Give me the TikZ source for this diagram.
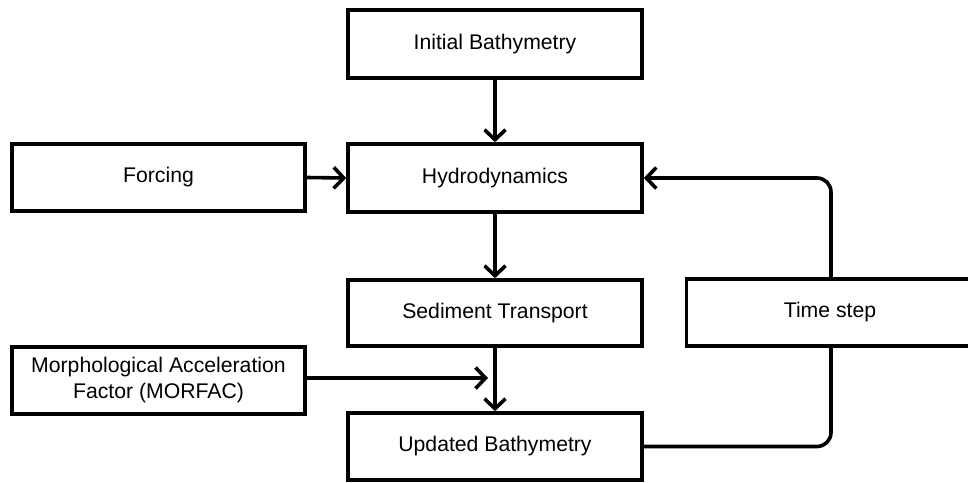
\documentclass[tikz,border=0pt]{standalone}
\usepackage{fontspec}
\setmainfont{Liberation Sans}
\usetikzlibrary{arrows.meta}
\begin{document}
\begin{tikzpicture}[x=1pt,y=-1pt,
  box/.style={draw=black, line width=3.6pt, fill=white, inner sep=0pt, align=center,
    font=\fontsize{21.2}{26}\selectfont},
  conn/.style={draw=black, line width=3.6pt, -{Straight Barb[length=10pt,width=21pt,line width=3.6pt]}},
  link/.style={draw=black, line width=3.6pt, rounded corners=14pt}]
\useasboundingbox (0,0) rectangle (968,482);
\clip (0,0) rectangle (968,482);
\fill[white] (0,0) rectangle (968,482);
\node[box, minimum width=294pt, minimum height=68pt] (init) at (495,44) {Initial Bathymetry};
\node[box, minimum width=294pt, minimum height=68pt] (hydro) at (495,178) {Hydrodynamics};
\node[box, minimum width=293pt, minimum height=67pt] (forc) at (158.5,177.5) {Forcing};
\node[box, minimum width=294pt, minimum height=66pt] (sed) at (495,313) {Sediment Transport};
\node[box, minimum width=289pt, minimum height=67pt] (time) at (831,312.5) {\hspace*{-2pt}Time step};
\node[box, minimum width=293pt, minimum height=67pt] (morf) at (158.5,380.5) {Morphological Acceleration\\Factor (MORFAC)};
\node[box, minimum width=294pt, minimum height=67pt] (upd) at (495,446.5) {Updated Bathymetry};
\coordinate (mtip) at (488,378);
\draw[conn] (init.south) -- (hydro.north);
\draw[conn] (forc.east) -- (hydro.west);
\draw[conn] (hydro.south) -- (sed.north);
\draw[conn] (sed.south) -- (upd.north);
\draw[conn] (morf.east |- mtip) -- (mtip);
\draw[link] (upd.east) -| (time.south);
\draw[link, -{Straight Barb[length=10pt,width=21pt,line width=3.6pt]}] (time.north) |- (hydro.east);
\end{tikzpicture}
\end{document}
